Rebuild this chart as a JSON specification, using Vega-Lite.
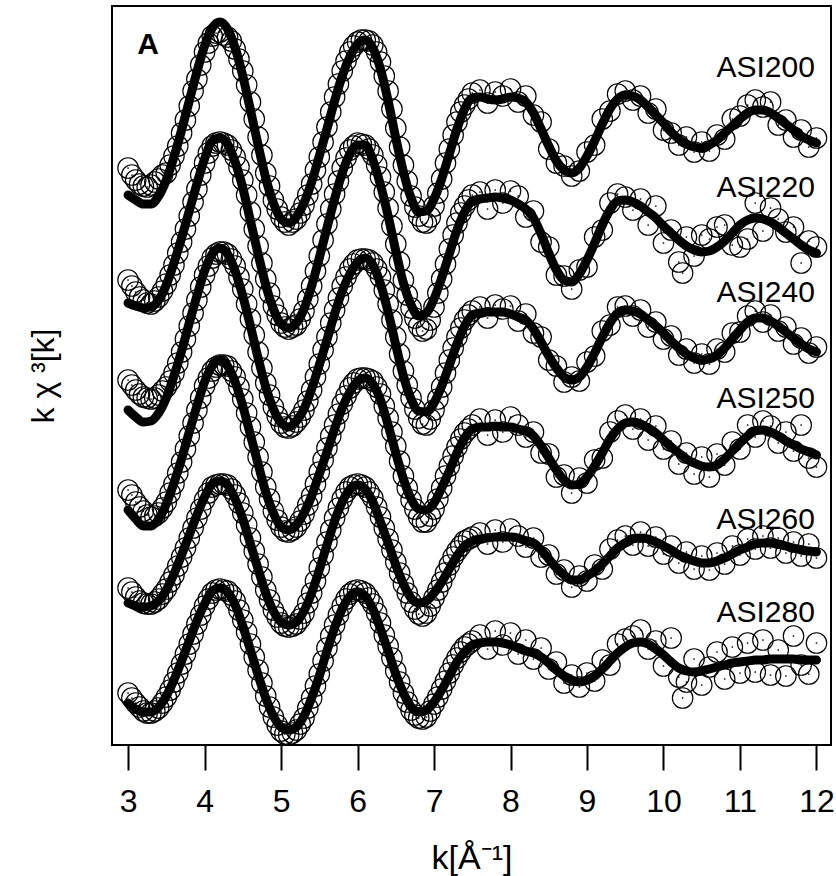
{
"$schema": "https://vega.github.io/schema/vega-lite/v6.json",
"width": 719,
"height": 739,
"autosize": {"type": "none"},
"padding": {"left": 112, "top": 6, "right": 5, "bottom": 131},
"background": "white",
"config": {"view": {"stroke": "black", "strokeWidth": 2}, "font": "Liberation Sans"},
"datasets": {
"exafs": [
{"s":"ASI200","k":3.0,"f":55.0,"o":57.7},{"s":"ASI200","k":3.05,"o":57.0},{"s":"ASI200","k":3.1,"f":54.5,"o":56.5},{"s":"ASI200","k":3.15,"o":56.1},{"s":"ASI200","k":3.2,"f":54.1,"o":55.9},{"s":"ASI200","k":3.25,"o":55.8},{"s":"ASI200","k":3.3,"f":54.1,"o":56.0},{"s":"ASI200","k":3.35,"o":56.3},{"s":"ASI200","k":3.4,"f":54.9,"o":56.6},{"s":"ASI200","k":3.45,"o":57.0},{"s":"ASI200","k":3.5,"f":56.5,"o":57.2},{"s":"ASI200","k":3.55,"o":58.0},{"s":"ASI200","k":3.6,"f":58.8,"o":58.9},{"s":"ASI200","k":3.65,"o":59.9},{"s":"ASI200","k":3.7,"f":61.5,"o":61.2},{"s":"ASI200","k":3.75,"o":62.5},{"s":"ASI200","k":3.8,"f":64.4,"o":63.9},{"s":"ASI200","k":3.85,"o":65.4},{"s":"ASI200","k":3.9,"f":67.3,"o":66.6},{"s":"ASI200","k":3.95,"o":68.0},{"s":"ASI200","k":4.0,"f":69.9,"o":69.3},{"s":"ASI200","k":4.05,"o":70.2},{"s":"ASI200","k":4.1,"f":71.7,"o":70.9},{"s":"ASI200","k":4.15,"o":71.2},{"s":"ASI200","k":4.2,"f":72.3,"o":71.3},{"s":"ASI200","k":4.25,"o":71.0},{"s":"ASI200","k":4.3,"f":71.6,"o":70.8},{"s":"ASI200","k":4.35,"o":70.4},{"s":"ASI200","k":4.4,"f":69.7,"o":69.6},{"s":"ASI200","k":4.45,"o":68.6},{"s":"ASI200","k":4.5,"f":66.9,"o":67.4},{"s":"ASI200","k":4.55,"o":66.0},{"s":"ASI200","k":4.6,"f":63.5,"o":64.3},{"s":"ASI200","k":4.65,"o":62.6},{"s":"ASI200","k":4.7,"f":60.0,"o":60.8},{"s":"ASI200","k":4.75,"o":59.0},{"s":"ASI200","k":4.8,"f":56.7,"o":57.2},{"s":"ASI200","k":4.85,"o":55.9},{"s":"ASI200","k":4.9,"f":54.2,"o":54.5},{"s":"ASI200","k":4.95,"o":53.6},{"s":"ASI200","k":5.0,"f":52.6,"o":52.8},{"s":"ASI200","k":5.05,"o":52.3},{"s":"ASI200","k":5.1,"f":52.2,"o":52.0},{"s":"ASI200","k":5.15,"o":52.3},{"s":"ASI200","k":5.2,"f":52.8,"o":52.6},{"s":"ASI200","k":5.25,"o":53.2},{"s":"ASI200","k":5.3,"f":54.2,"o":54.0},{"s":"ASI200","k":5.35,"o":55.0},{"s":"ASI200","k":5.4,"f":56.3,"o":56.1},{"s":"ASI200","k":5.45,"o":57.5},{"s":"ASI200","k":5.5,"f":58.9,"o":58.8},{"s":"ASI200","k":5.55,"o":60.3},{"s":"ASI200","k":5.6,"f":61.6,"o":61.8},{"s":"ASI200","k":5.65,"o":63.3},{"s":"ASI200","k":5.7,"f":64.4,"o":64.8},{"s":"ASI200","k":5.75,"o":66.1},{"s":"ASI200","k":5.8,"f":66.9,"o":67.4},{"s":"ASI200","k":5.85,"o":68.4},{"s":"ASI200","k":5.9,"f":68.8,"o":69.3},{"s":"ASI200","k":5.95,"o":69.9},{"s":"ASI200","k":6.0,"f":70.1,"o":70.3},{"s":"ASI200","k":6.05,"o":70.5},{"s":"ASI200","k":6.1,"f":70.5,"o":70.5},{"s":"ASI200","k":6.15,"o":70.4},{"s":"ASI200","k":6.2,"f":69.7,"o":70.0},{"s":"ASI200","k":6.25,"o":69.3},{"s":"ASI200","k":6.3,"f":67.6,"o":68.3},{"s":"ASI200","k":6.35,"o":66.9},{"s":"ASI200","k":6.4,"f":64.4,"o":65.4},{"s":"ASI200","k":6.45,"o":63.6},{"s":"ASI200","k":6.5,"f":60.7,"o":61.7},{"s":"ASI200","k":6.55,"o":59.8},{"s":"ASI200","k":6.6,"f":57.3,"o":58.0},{"s":"ASI200","k":6.65,"o":56.4},{"s":"ASI200","k":6.7,"f":54.7,"o":54.9},{"s":"ASI200","k":6.75,"o":53.8},{"s":"ASI200","k":6.8,"f":53.3,"o":52.9},{"s":"ASI200","k":6.85,"o":52.3},{"s":"ASI200","k":6.9,"f":53.4,"o":52.2},{"s":"ASI200","k":6.95,"o":52.8},{"s":"ASI200","k":7.0,"f":54.6,"o":53.9},{"s":"ASI200","k":7.05,"o":55.2},{"s":"ASI200","k":7.1,"f":56.6,"o":56.6},{"s":"ASI200","k":7.15,"o":58.2},{"s":"ASI200","k":7.2,"f":59.1,"o":59.6},{"s":"ASI200","k":7.25,"o":61.0},{"s":"ASI200","k":7.3,"f":61.6,"o":62.3},{"s":"ASI200","k":7.35,"o":63.3},{"s":"ASI200","k":7.4,"f":63.6,"o":64.0},{"s":"ASI200","k":7.45,"o":64.6},{"s":"ASI200","k":7.5,"f":64.7,"o":65.2},
{"s":"ASI200","k":7.6,"f":64.8,"o":65.5},{"s":"ASI200","k":7.7,"f":64.6,"o":64.2},{"s":"ASI200","k":7.8,"f":64.5,"o":65.3},{"s":"ASI200","k":7.9,"f":64.6,"o":64.9},{"s":"ASI200","k":8.0,"f":64.8,"o":65.6},{"s":"ASI200","k":8.1,"f":64.7,"o":64.3},{"s":"ASI200","k":8.2,"f":64.3,"o":64.9},{"s":"ASI200","k":8.3,"f":63.2,"o":63.0},{"s":"ASI200","k":8.4,"f":61.6,"o":62.3},{"s":"ASI200","k":8.5,"f":59.9,"o":59.6},{"s":"ASI200","k":8.6,"f":58.4,"o":58.2},{"s":"ASI200","k":8.7,"f":57.5,"o":57.9},{"s":"ASI200","k":8.8,"f":57.2,"o":56.9},{"s":"ASI200","k":8.9,"f":57.7,"o":57.4},{"s":"ASI200","k":9.0,"f":58.9,"o":59.3},{"s":"ASI200","k":9.1,"f":60.4,"o":60.0},{"s":"ASI200","k":9.2,"f":62.1,"o":62.6},{"s":"ASI200","k":9.3,"f":63.6,"o":63.4},{"s":"ASI200","k":9.4,"f":64.6,"o":65.1},{"s":"ASI200","k":9.5,"f":65.0,"o":65.4},{"s":"ASI200","k":9.6,"f":64.9,"o":64.5},{"s":"ASI200","k":9.7,"f":64.5,"o":64.9},{"s":"ASI200","k":9.8,"f":63.8,"o":63.2},{"s":"ASI200","k":9.9,"f":63.0,"o":63.6},{"s":"ASI200","k":10.0,"f":62.2,"o":61.5},{"s":"ASI200","k":10.1,"f":61.3,"o":61.2},{"s":"ASI200","k":10.2,"f":60.6,"o":60.0},{"s":"ASI200","k":10.3,"f":60.1,"o":60.8},{"s":"ASI200","k":10.4,"f":59.8,"o":59.3},{"s":"ASI200","k":10.5,"f":59.7,"o":60.3},{"s":"ASI200","k":10.6,"f":60.0,"o":59.4},{"s":"ASI200","k":10.7,"f":60.5,"o":61.0},{"s":"ASI200","k":10.8,"f":61.2,"o":60.6},{"s":"ASI200","k":10.9,"f":61.9,"o":62.6},{"s":"ASI200","k":11.0,"f":62.6,"o":62.9},{"s":"ASI200","k":11.1,"f":63.2,"o":64.0},{"s":"ASI200","k":11.2,"f":63.5,"o":64.5},{"s":"ASI200","k":11.3,"f":63.5,"o":63.8},{"s":"ASI200","k":11.4,"f":63.2,"o":64.3},{"s":"ASI200","k":11.5,"f":62.7,"o":62.0},{"s":"ASI200","k":11.6,"f":62.1,"o":62.5},{"s":"ASI200","k":11.7,"f":61.5,"o":60.8},{"s":"ASI200","k":11.8,"f":60.9,"o":61.5},{"s":"ASI200","k":11.9,"f":60.5,"o":59.8},{"s":"ASI200","k":12.0,"f":60.2,"o":60.7},

{"s":"ASI220","k":3.0,"f":44.2,"o":46.5},{"s":"ASI220","k":3.05,"o":45.9},{"s":"ASI220","k":3.1,"f":43.9,"o":45.3},{"s":"ASI220","k":3.15,"o":44.8},{"s":"ASI220","k":3.2,"f":43.7,"o":44.5},{"s":"ASI220","k":3.25,"o":44.2},{"s":"ASI220","k":3.3,"f":43.8,"o":44.1},{"s":"ASI220","k":3.35,"o":44.4},{"s":"ASI220","k":3.4,"f":44.5,"o":44.8},{"s":"ASI220","k":3.45,"o":45.4},{"s":"ASI220","k":3.5,"f":46.0,"o":46.1},{"s":"ASI220","k":3.55,"o":47.0},{"s":"ASI220","k":3.6,"f":48.2,"o":48.0},{"s":"ASI220","k":3.65,"o":49.2},{"s":"ASI220","k":3.7,"f":50.7,"o":50.3},{"s":"ASI220","k":3.75,"o":51.6},{"s":"ASI220","k":3.8,"f":53.4,"o":52.9},{"s":"ASI220","k":3.85,"o":54.3},{"s":"ASI220","k":3.9,"f":56.1,"o":55.6},{"s":"ASI220","k":3.95,"o":57.0},{"s":"ASI220","k":4.0,"f":58.6,"o":58.2},{"s":"ASI220","k":4.05,"o":59.2},{"s":"ASI220","k":4.1,"f":60.4,"o":59.9},{"s":"ASI220","k":4.15,"o":60.2},{"s":"ASI220","k":4.2,"f":60.7,"o":60.3},{"s":"ASI220","k":4.25,"o":60.2},{"s":"ASI220","k":4.3,"f":60.1,"o":60.0},{"s":"ASI220","k":4.35,"o":59.5},{"s":"ASI220","k":4.4,"f":58.3,"o":58.8},{"s":"ASI220","k":4.45,"o":57.8},{"s":"ASI220","k":4.5,"f":55.7,"o":56.5},{"s":"ASI220","k":4.55,"o":55.0},{"s":"ASI220","k":4.6,"f":52.4,"o":53.3},{"s":"ASI220","k":4.65,"o":51.6},{"s":"ASI220","k":4.7,"f":49.1,"o":49.9},{"s":"ASI220","k":4.75,"o":48.2},{"s":"ASI220","k":4.8,"f":46.0,"o":46.6},{"s":"ASI220","k":4.85,"o":45.2},{"s":"ASI220","k":4.9,"f":43.6,"o":43.9},{"s":"ASI220","k":4.95,"o":43.0},{"s":"ASI220","k":5.0,"f":42.1,"o":42.2},{"s":"ASI220","k":5.05,"o":41.8},{"s":"ASI220","k":5.1,"f":41.7,"o":41.6},{"s":"ASI220","k":5.15,"o":41.8},{"s":"ASI220","k":5.2,"f":42.2,"o":42.0},{"s":"ASI220","k":5.25,"o":42.6},{"s":"ASI220","k":5.3,"f":43.6,"o":43.4},{"s":"ASI220","k":5.35,"o":44.6},{"s":"ASI220","k":5.4,"f":45.9,"o":45.9},{"s":"ASI220","k":5.45,"o":47.4},{"s":"ASI220","k":5.5,"f":48.7,"o":48.9},{"s":"ASI220","k":5.55,"o":50.5},{"s":"ASI220","k":5.6,"f":51.7,"o":52.1},{"s":"ASI220","k":5.65,"o":53.6},{"s":"ASI220","k":5.7,"f":54.6,"o":55.1},{"s":"ASI220","k":5.75,"o":56.4},{"s":"ASI220","k":5.8,"f":57.2,"o":57.7},{"s":"ASI220","k":5.85,"o":58.7},{"s":"ASI220","k":5.9,"f":59.1,"o":59.5},{"s":"ASI220","k":5.95,"o":59.9},{"s":"ASI220","k":6.0,"f":60.0,"o":60.2},{"s":"ASI220","k":6.05,"o":60.1},{"s":"ASI220","k":6.1,"f":60.0,"o":60.0},{"s":"ASI220","k":6.15,"o":59.6},{"s":"ASI220","k":6.2,"f":58.5,"o":59.0},{"s":"ASI220","k":6.25,"o":58.0},{"s":"ASI220","k":6.3,"f":56.0,"o":56.8},{"s":"ASI220","k":6.35,"o":55.3},{"s":"ASI220","k":6.4,"f":52.9,"o":53.7},{"s":"ASI220","k":6.45,"o":51.9},{"s":"ASI220","k":6.5,"f":49.4,"o":50.1},{"s":"ASI220","k":6.55,"o":48.3},{"s":"ASI220","k":6.6,"f":46.2,"o":46.5},{"s":"ASI220","k":6.65,"o":45.0},{"s":"ASI220","k":6.7,"f":44.0,"o":43.7},{"s":"ASI220","k":6.75,"o":42.7},{"s":"ASI220","k":6.8,"f":42.9,"o":41.9},{"s":"ASI220","k":6.85,"o":41.4},{"s":"ASI220","k":6.9,"f":43.2,"o":41.6},{"s":"ASI220","k":6.95,"o":42.5},{"s":"ASI220","k":7.0,"f":44.6,"o":43.8},{"s":"ASI220","k":7.05,"o":45.2},{"s":"ASI220","k":7.1,"f":46.7,"o":46.6},{"s":"ASI220","k":7.15,"o":48.1},{"s":"ASI220","k":7.2,"f":49.1,"o":49.6},{"s":"ASI220","k":7.25,"o":51.0},{"s":"ASI220","k":7.3,"f":51.5,"o":52.2},{"s":"ASI220","k":7.35,"o":53.2},{"s":"ASI220","k":7.4,"f":53.3,"o":53.9},{"s":"ASI220","k":7.45,"o":54.5},{"s":"ASI220","k":7.5,"f":54.4,"o":55.0},
{"s":"ASI220","k":7.6,"f":54.6,"o":55.3},{"s":"ASI220","k":7.7,"f":54.7,"o":53.6},{"s":"ASI220","k":7.8,"f":54.8,"o":55.5},{"s":"ASI220","k":7.9,"f":54.7,"o":54.2},{"s":"ASI220","k":8.0,"f":54.5,"o":55.4},{"s":"ASI220","k":8.1,"f":54.1,"o":54.9},{"s":"ASI220","k":8.2,"f":53.6,"o":52.8},{"s":"ASI220","k":8.3,"f":52.7,"o":53.4},{"s":"ASI220","k":8.4,"f":51.1,"o":50.3},{"s":"ASI220","k":8.5,"f":49.2,"o":49.8},{"s":"ASI220","k":8.6,"f":47.5,"o":47.0},{"s":"ASI220","k":8.7,"f":46.5,"o":46.9},{"s":"ASI220","k":8.8,"f":46.3,"o":45.6},{"s":"ASI220","k":8.9,"f":47.1,"o":47.5},{"s":"ASI220","k":9.0,"f":48.5,"o":47.8},{"s":"ASI220","k":9.1,"f":50.2,"o":50.8},{"s":"ASI220","k":9.2,"f":52.0,"o":51.5},{"s":"ASI220","k":9.3,"f":53.5,"o":54.2},{"s":"ASI220","k":9.4,"f":54.4,"o":55.1},{"s":"ASI220","k":9.5,"f":54.5,"o":54.8},{"s":"ASI220","k":9.6,"f":54.3,"o":53.5},{"s":"ASI220","k":9.7,"f":53.9,"o":54.6},{"s":"ASI220","k":9.8,"f":53.3,"o":52.0},{"s":"ASI220","k":9.9,"f":52.7,"o":53.9},{"s":"ASI220","k":10.0,"f":51.9,"o":50.2},{"s":"ASI220","k":10.1,"f":51.2,"o":51.5},{"s":"ASI220","k":10.2,"f":50.5,"o":48.3},{"s":"ASI220","k":10.25,"o":47.2},{"s":"ASI220","k":10.3,"f":49.9,"o":50.8},{"s":"ASI220","k":10.4,"f":49.5,"o":48.9},{"s":"ASI220","k":10.5,"f":49.3,"o":51.0},{"s":"ASI220","k":10.6,"f":49.4,"o":50.6},{"s":"ASI220","k":10.7,"f":49.8,"o":51.8},{"s":"ASI220","k":10.8,"f":50.4,"o":52.0},{"s":"ASI220","k":10.9,"f":51.2,"o":50.0},{"s":"ASI220","k":11.0,"f":52.0,"o":49.8},{"s":"ASI220","k":11.1,"f":52.5,"o":50.6},{"s":"ASI220","k":11.2,"f":52.7,"o":54.2},{"s":"ASI220","k":11.3,"f":52.6,"o":51.4},{"s":"ASI220","k":11.4,"f":52.3,"o":53.7},{"s":"ASI220","k":11.5,"f":51.8,"o":52.6},{"s":"ASI220","k":11.6,"f":51.2,"o":51.3},{"s":"ASI220","k":11.7,"f":50.6,"o":51.8},{"s":"ASI220","k":11.8,"f":50.0,"o":48.2},{"s":"ASI220","k":11.9,"f":49.5,"o":50.4},{"s":"ASI220","k":12.0,"f":49.2,"o":49.8},

{"s":"ASI240","k":3.0,"f":33.5,"o":36.5},{"s":"ASI240","k":3.05,"o":36.0},{"s":"ASI240","k":3.1,"f":32.8,"o":35.5},{"s":"ASI240","k":3.15,"o":35.1},{"s":"ASI240","k":3.2,"f":32.3,"o":34.8},{"s":"ASI240","k":3.25,"o":34.7},{"s":"ASI240","k":3.3,"f":32.4,"o":34.6},{"s":"ASI240","k":3.35,"o":34.7},{"s":"ASI240","k":3.4,"f":33.2,"o":35.0},{"s":"ASI240","k":3.45,"o":35.4},{"s":"ASI240","k":3.5,"f":34.7,"o":35.8},{"s":"ASI240","k":3.55,"o":36.4},{"s":"ASI240","k":3.6,"f":36.9,"o":37.2},{"s":"ASI240","k":3.65,"o":38.2},{"s":"ASI240","k":3.7,"f":39.4,"o":39.3},{"s":"ASI240","k":3.75,"o":40.6},{"s":"ASI240","k":3.8,"f":42.2,"o":41.9},{"s":"ASI240","k":3.85,"o":43.2},{"s":"ASI240","k":3.9,"f":44.9,"o":44.5},{"s":"ASI240","k":3.95,"o":45.8},{"s":"ASI240","k":4.0,"f":47.4,"o":47.0},{"s":"ASI240","k":4.05,"o":47.9},{"s":"ASI240","k":4.1,"f":49.1,"o":48.7},{"s":"ASI240","k":4.15,"o":49.1},{"s":"ASI240","k":4.2,"f":49.7,"o":49.3},{"s":"ASI240","k":4.25,"o":49.3},{"s":"ASI240","k":4.3,"f":49.1,"o":49.1},{"s":"ASI240","k":4.35,"o":48.6},{"s":"ASI240","k":4.4,"f":47.4,"o":47.9},{"s":"ASI240","k":4.45,"o":46.8},{"s":"ASI240","k":4.5,"f":44.9,"o":45.6},{"s":"ASI240","k":4.55,"o":44.1},{"s":"ASI240","k":4.6,"f":41.9,"o":42.6},{"s":"ASI240","k":4.65,"o":41.0},{"s":"ASI240","k":4.7,"f":38.7,"o":39.3},{"s":"ASI240","k":4.75,"o":37.7},{"s":"ASI240","k":4.8,"f":35.8,"o":36.2},{"s":"ASI240","k":4.85,"o":35.0},{"s":"ASI240","k":4.9,"f":33.6,"o":33.8},{"s":"ASI240","k":4.95,"o":32.9},{"s":"ASI240","k":5.0,"f":32.2,"o":32.2},{"s":"ASI240","k":5.05,"o":31.8},{"s":"ASI240","k":5.1,"f":31.8,"o":31.7},{"s":"ASI240","k":5.15,"o":31.9},{"s":"ASI240","k":5.2,"f":32.4,"o":32.3},{"s":"ASI240","k":5.25,"o":32.8},{"s":"ASI240","k":5.3,"f":33.6,"o":33.5},{"s":"ASI240","k":5.35,"o":34.4},{"s":"ASI240","k":5.4,"f":35.6,"o":35.5},{"s":"ASI240","k":5.45,"o":36.8},{"s":"ASI240","k":5.5,"f":38.0,"o":38.1},{"s":"ASI240","k":5.55,"o":39.5},{"s":"ASI240","k":5.6,"f":40.5,"o":40.8},{"s":"ASI240","k":5.65,"o":42.2},{"s":"ASI240","k":5.7,"f":43.1,"o":43.5},{"s":"ASI240","k":5.75,"o":44.7},{"s":"ASI240","k":5.8,"f":45.4,"o":45.9},{"s":"ASI240","k":5.85,"o":46.8},{"s":"ASI240","k":5.9,"f":47.1,"o":47.6},{"s":"ASI240","k":5.95,"o":48.1},{"s":"ASI240","k":6.0,"f":48.3,"o":48.5},{"s":"ASI240","k":6.05,"o":48.6},{"s":"ASI240","k":6.1,"f":48.7,"o":48.6},{"s":"ASI240","k":6.15,"o":48.5},{"s":"ASI240","k":6.2,"f":48.0,"o":48.2},{"s":"ASI240","k":6.25,"o":47.6},{"s":"ASI240","k":6.3,"f":46.1,"o":46.8},{"s":"ASI240","k":6.35,"o":45.5},{"s":"ASI240","k":6.4,"f":43.3,"o":44.1},{"s":"ASI240","k":6.45,"o":42.5},{"s":"ASI240","k":6.5,"f":40.0,"o":40.8},{"s":"ASI240","k":6.55,"o":39.1},{"s":"ASI240","k":6.6,"f":36.9,"o":37.4},{"s":"ASI240","k":6.65,"o":36.0},{"s":"ASI240","k":6.7,"f":34.6,"o":34.7},{"s":"ASI240","k":6.75,"o":33.6},{"s":"ASI240","k":6.8,"f":33.4,"o":32.7},{"s":"ASI240","k":6.85,"o":32.1},{"s":"ASI240","k":6.9,"f":33.3,"o":32.0},{"s":"ASI240","k":6.95,"o":32.6},{"s":"ASI240","k":7.0,"f":34.2,"o":33.5},{"s":"ASI240","k":7.05,"o":34.6},{"s":"ASI240","k":7.1,"f":35.9,"o":35.8},{"s":"ASI240","k":7.15,"o":37.2},{"s":"ASI240","k":7.2,"f":38.0,"o":38.5},{"s":"ASI240","k":7.25,"o":39.7},{"s":"ASI240","k":7.3,"f":40.1,"o":40.8},{"s":"ASI240","k":7.35,"o":41.7},{"s":"ASI240","k":7.4,"f":41.9,"o":42.5},{"s":"ASI240","k":7.45,"o":43.0},{"s":"ASI240","k":7.5,"f":43.0,"o":43.4},
{"s":"ASI240","k":7.6,"f":43.2,"o":43.8},{"s":"ASI240","k":7.7,"f":43.3,"o":42.7},{"s":"ASI240","k":7.8,"f":43.3,"o":44.0},{"s":"ASI240","k":7.9,"f":43.3,"o":43.6},{"s":"ASI240","k":8.0,"f":43.1,"o":43.9},{"s":"ASI240","k":8.1,"f":42.8,"o":42.4},{"s":"ASI240","k":8.2,"f":42.5,"o":43.1},{"s":"ASI240","k":8.3,"f":41.6,"o":41.2},{"s":"ASI240","k":8.4,"f":40.3,"o":40.8},{"s":"ASI240","k":8.5,"f":38.9,"o":38.5},{"s":"ASI240","k":8.6,"f":37.7,"o":37.9},{"s":"ASI240","k":8.7,"f":36.8,"o":36.3},{"s":"ASI240","k":8.8,"f":36.5,"o":36.8},{"s":"ASI240","k":8.9,"f":36.8,"o":36.4},{"s":"ASI240","k":9.0,"f":37.8,"o":38.3},{"s":"ASI240","k":9.1,"f":39.2,"o":38.9},{"s":"ASI240","k":9.2,"f":40.8,"o":41.4},{"s":"ASI240","k":9.3,"f":42.2,"o":42.0},{"s":"ASI240","k":9.4,"f":43.2,"o":43.8},{"s":"ASI240","k":9.5,"f":43.5,"o":43.9},{"s":"ASI240","k":9.6,"f":43.4,"o":42.9},{"s":"ASI240","k":9.7,"f":43.1,"o":43.5},{"s":"ASI240","k":9.8,"f":42.5,"o":41.8},{"s":"ASI240","k":9.9,"f":41.9,"o":42.3},{"s":"ASI240","k":10.0,"f":41.2,"o":40.6},{"s":"ASI240","k":10.1,"f":40.4,"o":40.9},{"s":"ASI240","k":10.2,"f":39.7,"o":39.0},{"s":"ASI240","k":10.3,"f":39.1,"o":39.6},{"s":"ASI240","k":10.4,"f":38.7,"o":38.2},{"s":"ASI240","k":10.5,"f":38.5,"o":39.1},{"s":"ASI240","k":10.6,"f":38.6,"o":38.1},{"s":"ASI240","k":10.7,"f":39.0,"o":39.6},{"s":"ASI240","k":10.8,"f":39.7,"o":39.3},{"s":"ASI240","k":10.9,"f":40.6,"o":41.2},{"s":"ASI240","k":11.0,"f":41.5,"o":41.3},{"s":"ASI240","k":11.1,"f":42.3,"o":42.9},{"s":"ASI240","k":11.2,"f":42.7,"o":43.4},{"s":"ASI240","k":11.3,"f":42.7,"o":42.3},{"s":"ASI240","k":11.4,"f":42.4,"o":43.0},{"s":"ASI240","k":11.5,"f":41.9,"o":41.4},{"s":"ASI240","k":11.6,"f":41.3,"o":41.8},{"s":"ASI240","k":11.7,"f":40.7,"o":40.1},{"s":"ASI240","k":11.8,"f":40.1,"o":40.7},{"s":"ASI240","k":11.9,"f":39.6,"o":39.2},{"s":"ASI240","k":12.0,"f":39.3,"o":39.8},

{"s":"ASI250","k":3.0,"f":23.5,"o":25.5},{"s":"ASI250","k":3.05,"o":25.0},{"s":"ASI250","k":3.1,"f":22.6,"o":24.3},{"s":"ASI250","k":3.15,"o":23.8},{"s":"ASI250","k":3.2,"f":21.9,"o":23.4},{"s":"ASI250","k":3.25,"o":23.0},{"s":"ASI250","k":3.3,"f":21.9,"o":22.8},{"s":"ASI250","k":3.35,"o":22.9},{"s":"ASI250","k":3.4,"f":22.6,"o":23.2},{"s":"ASI250","k":3.45,"o":23.7},{"s":"ASI250","k":3.5,"f":24.1,"o":24.3},{"s":"ASI250","k":3.55,"o":25.2},{"s":"ASI250","k":3.6,"f":26.2,"o":26.1},{"s":"ASI250","k":3.65,"o":27.2},{"s":"ASI250","k":3.7,"f":28.6,"o":28.3},{"s":"ASI250","k":3.75,"o":29.6},{"s":"ASI250","k":3.8,"f":31.3,"o":30.9},{"s":"ASI250","k":3.85,"o":32.2},{"s":"ASI250","k":3.9,"f":33.9,"o":33.5},{"s":"ASI250","k":3.95,"o":34.7},{"s":"ASI250","k":4.0,"f":36.3,"o":35.9},{"s":"ASI250","k":4.05,"o":36.7},{"s":"ASI250","k":4.1,"f":37.9,"o":37.4},{"s":"ASI250","k":4.15,"o":37.8},{"s":"ASI250","k":4.2,"f":38.5,"o":38.0},{"s":"ASI250","k":4.25,"o":38.0},{"s":"ASI250","k":4.3,"f":37.9,"o":37.9},{"s":"ASI250","k":4.35,"o":37.4},{"s":"ASI250","k":4.4,"f":36.3,"o":36.8},{"s":"ASI250","k":4.45,"o":35.8},{"s":"ASI250","k":4.5,"f":33.9,"o":34.6},{"s":"ASI250","k":4.55,"o":33.2},{"s":"ASI250","k":4.6,"f":31.0,"o":31.8},{"s":"ASI250","k":4.65,"o":30.3},{"s":"ASI250","k":4.7,"f":28.1,"o":28.8},{"s":"ASI250","k":4.75,"o":27.3},{"s":"ASI250","k":4.8,"f":25.3,"o":25.8},{"s":"ASI250","k":4.85,"o":24.6},{"s":"ASI250","k":4.9,"f":23.2,"o":23.4},{"s":"ASI250","k":4.95,"o":22.5},{"s":"ASI250","k":5.0,"f":21.8,"o":21.8},{"s":"ASI250","k":5.05,"o":21.4},{"s":"ASI250","k":5.1,"f":21.5,"o":21.3},{"s":"ASI250","k":5.15,"o":21.5},{"s":"ASI250","k":5.2,"f":22.0,"o":21.8},{"s":"ASI250","k":5.25,"o":22.4},{"s":"ASI250","k":5.3,"f":23.2,"o":23.1},{"s":"ASI250","k":5.35,"o":24.0},{"s":"ASI250","k":5.4,"f":24.9,"o":24.9},{"s":"ASI250","k":5.45,"o":26.1},{"s":"ASI250","k":5.5,"f":27.1,"o":27.3},{"s":"ASI250","k":5.55,"o":28.5},{"s":"ASI250","k":5.6,"f":29.3,"o":29.7},{"s":"ASI250","k":5.65,"o":30.9},{"s":"ASI250","k":5.7,"f":31.6,"o":32.0},{"s":"ASI250","k":5.75,"o":33.1},{"s":"ASI250","k":5.8,"f":33.7,"o":34.1},{"s":"ASI250","k":5.85,"o":34.9},{"s":"ASI250","k":5.9,"f":35.3,"o":35.7},{"s":"ASI250","k":5.95,"o":36.2},{"s":"ASI250","k":6.0,"f":36.4,"o":36.6},{"s":"ASI250","k":6.05,"o":36.7},{"s":"ASI250","k":6.1,"f":36.7,"o":36.7},{"s":"ASI250","k":6.15,"o":36.6},{"s":"ASI250","k":6.2,"f":36.1,"o":36.4},{"s":"ASI250","k":6.25,"o":35.8},{"s":"ASI250","k":6.3,"f":34.5,"o":35.1},{"s":"ASI250","k":6.35,"o":33.9},{"s":"ASI250","k":6.4,"f":32.0,"o":32.7},{"s":"ASI250","k":6.45,"o":31.3},{"s":"ASI250","k":6.5,"f":29.2,"o":29.9},{"s":"ASI250","k":6.55,"o":28.4},{"s":"ASI250","k":6.6,"f":26.6,"o":26.9},{"s":"ASI250","k":6.65,"o":25.7},{"s":"ASI250","k":6.7,"f":24.6,"o":24.5},{"s":"ASI250","k":6.75,"o":23.6},{"s":"ASI250","k":6.8,"f":23.6,"o":22.8},{"s":"ASI250","k":6.85,"o":22.3},{"s":"ASI250","k":6.9,"f":23.5,"o":22.3},{"s":"ASI250","k":6.95,"o":22.9},{"s":"ASI250","k":7.0,"f":24.2,"o":23.6},{"s":"ASI250","k":7.05,"o":24.6},{"s":"ASI250","k":7.1,"f":25.7,"o":25.7},{"s":"ASI250","k":7.15,"o":26.9},{"s":"ASI250","k":7.2,"f":27.4,"o":27.9},{"s":"ASI250","k":7.25,"o":28.9},{"s":"ASI250","k":7.3,"f":29.2,"o":29.8},{"s":"ASI250","k":7.35,"o":30.6},{"s":"ASI250","k":7.4,"f":30.7,"o":31.2},{"s":"ASI250","k":7.45,"o":31.6},{"s":"ASI250","k":7.5,"f":31.6,"o":32.0},
{"s":"ASI250","k":7.6,"f":31.8,"o":32.6},{"s":"ASI250","k":7.7,"f":31.8,"o":31.0},{"s":"ASI250","k":7.8,"f":31.9,"o":32.5},{"s":"ASI250","k":7.9,"f":31.8,"o":31.3},{"s":"ASI250","k":8.0,"f":31.8,"o":32.8},{"s":"ASI250","k":8.1,"f":31.6,"o":32.0},{"s":"ASI250","k":8.2,"f":31.4,"o":30.8},{"s":"ASI250","k":8.3,"f":30.9,"o":31.3},{"s":"ASI250","k":8.4,"f":29.9,"o":29.2},{"s":"ASI250","k":8.5,"f":28.7,"o":29.1},{"s":"ASI250","k":8.6,"f":27.5,"o":26.8},{"s":"ASI250","k":8.7,"f":26.5,"o":27.0},{"s":"ASI250","k":8.8,"f":26.0,"o":25.2},{"s":"ASI250","k":8.9,"f":26.1,"o":26.7},{"s":"ASI250","k":9.0,"f":26.8,"o":26.2},{"s":"ASI250","k":9.1,"f":27.9,"o":28.5},{"s":"ASI250","k":9.2,"f":29.2,"o":28.7},{"s":"ASI250","k":9.3,"f":30.6,"o":31.3},{"s":"ASI250","k":9.4,"f":31.6,"o":32.4},{"s":"ASI250","k":9.5,"f":32.2,"o":33.0},{"s":"ASI250","k":9.6,"f":32.3,"o":31.6},{"s":"ASI250","k":9.7,"f":32.1,"o":32.6},{"s":"ASI250","k":9.8,"f":31.7,"o":30.5},{"s":"ASI250","k":9.9,"f":31.2,"o":31.9},{"s":"ASI250","k":10.0,"f":30.5,"o":29.6},{"s":"ASI250","k":10.1,"f":29.8,"o":30.4},{"s":"ASI250","k":10.2,"f":29.2,"o":28.1},{"s":"ASI250","k":10.3,"f":28.6,"o":29.2},{"s":"ASI250","k":10.4,"f":28.2,"o":27.1},{"s":"ASI250","k":10.5,"f":27.9,"o":28.8},{"s":"ASI250","k":10.6,"f":27.8,"o":26.8},{"s":"ASI250","k":10.7,"f":28.0,"o":29.1},{"s":"ASI250","k":10.8,"f":28.6,"o":28.0},{"s":"ASI250","k":10.9,"f":29.4,"o":30.3},{"s":"ASI250","k":11.0,"f":30.2,"o":29.6},{"s":"ASI250","k":11.1,"f":30.9,"o":32.0},{"s":"ASI250","k":11.2,"f":31.4,"o":30.8},{"s":"ASI250","k":11.3,"f":31.5,"o":32.4},{"s":"ASI250","k":11.4,"f":31.3,"o":31.9},{"s":"ASI250","k":11.5,"f":30.9,"o":30.2},{"s":"ASI250","k":11.6,"f":30.4,"o":31.3},{"s":"ASI250","k":11.7,"f":30.0,"o":29.4},{"s":"ASI250","k":11.8,"f":29.6,"o":32.0},{"s":"ASI250","k":11.9,"f":29.3,"o":28.7},{"s":"ASI250","k":12.0,"f":29.0,"o":27.8},

{"s":"ASI260","k":3.0,"f":14.2,"o":15.7},{"s":"ASI260","k":3.05,"o":15.3},{"s":"ASI260","k":3.1,"f":13.9,"o":14.8},{"s":"ASI260","k":3.15,"o":14.4},{"s":"ASI260","k":3.2,"f":13.8,"o":14.2},{"s":"ASI260","k":3.25,"o":14.1},{"s":"ASI260","k":3.3,"f":13.9,"o":14.1},{"s":"ASI260","k":3.35,"o":14.3},{"s":"ASI260","k":3.4,"f":14.4,"o":14.6},{"s":"ASI260","k":3.45,"o":15.1},{"s":"ASI260","k":3.5,"f":15.5,"o":15.6},{"s":"ASI260","k":3.55,"o":16.3},{"s":"ASI260","k":3.6,"f":17.1,"o":17.0},{"s":"ASI260","k":3.65,"o":17.9},{"s":"ASI260","k":3.7,"f":19.0,"o":18.8},{"s":"ASI260","k":3.75,"o":19.7},{"s":"ASI260","k":3.8,"f":21.0,"o":20.7},{"s":"ASI260","k":3.85,"o":21.7},{"s":"ASI260","k":3.9,"f":23.0,"o":22.7},{"s":"ASI260","k":3.95,"o":23.6},{"s":"ASI260","k":4.0,"f":24.8,"o":24.5},{"s":"ASI260","k":4.05,"o":25.2},{"s":"ASI260","k":4.1,"f":26.1,"o":25.8},{"s":"ASI260","k":4.15,"o":26.0},{"s":"ASI260","k":4.2,"f":26.4,"o":26.1},{"s":"ASI260","k":4.25,"o":26.1},{"s":"ASI260","k":4.3,"f":26.0,"o":26.0},{"s":"ASI260","k":4.35,"o":25.6},{"s":"ASI260","k":4.4,"f":24.6,"o":25.0},{"s":"ASI260","k":4.45,"o":24.2},{"s":"ASI260","k":4.5,"f":22.6,"o":23.2},{"s":"ASI260","k":4.55,"o":22.0},{"s":"ASI260","k":4.6,"f":20.1,"o":20.7},{"s":"ASI260","k":4.65,"o":19.4},{"s":"ASI260","k":4.7,"f":17.6,"o":18.1},{"s":"ASI260","k":4.75,"o":16.8},{"s":"ASI260","k":4.8,"f":15.2,"o":15.5},{"s":"ASI260","k":4.85,"o":14.5},{"s":"ASI260","k":4.9,"f":13.4,"o":13.5},{"s":"ASI260","k":4.95,"o":12.8},{"s":"ASI260","k":5.0,"f":12.3,"o":12.2},{"s":"ASI260","k":5.05,"o":11.9},{"s":"ASI260","k":5.1,"f":12.0,"o":11.8},{"s":"ASI260","k":5.15,"o":11.9},{"s":"ASI260","k":5.2,"f":12.3,"o":12.1},{"s":"ASI260","k":5.25,"o":12.6},{"s":"ASI260","k":5.3,"f":13.4,"o":13.2},{"s":"ASI260","k":5.35,"o":14.2},{"s":"ASI260","k":5.4,"f":15.2,"o":15.2},{"s":"ASI260","k":5.45,"o":16.4},{"s":"ASI260","k":5.5,"f":17.5,"o":17.7},{"s":"ASI260","k":5.55,"o":19.0},{"s":"ASI260","k":5.6,"f":20.0,"o":20.3},{"s":"ASI260","k":5.65,"o":21.5},{"s":"ASI260","k":5.7,"f":22.4,"o":22.7},{"s":"ASI260","k":5.75,"o":23.7},{"s":"ASI260","k":5.8,"f":24.3,"o":24.6},{"s":"ASI260","k":5.85,"o":25.3},{"s":"ASI260","k":5.9,"f":25.6,"o":25.8},{"s":"ASI260","k":5.95,"o":26.0},{"s":"ASI260","k":6.0,"f":26.0,"o":26.1},{"s":"ASI260","k":6.05,"o":26.0},{"s":"ASI260","k":6.1,"f":25.6,"o":25.8},{"s":"ASI260","k":6.15,"o":25.3},{"s":"ASI260","k":6.2,"f":24.3,"o":24.7},{"s":"ASI260","k":6.25,"o":23.8},{"s":"ASI260","k":6.3,"f":22.3,"o":22.8},{"s":"ASI260","k":6.35,"o":21.7},{"s":"ASI260","k":6.4,"f":20.2,"o":20.6},{"s":"ASI260","k":6.45,"o":19.5},{"s":"ASI260","k":6.5,"f":18.0,"o":18.3},{"s":"ASI260","k":6.55,"o":17.2},{"s":"ASI260","k":6.6,"f":16.1,"o":16.1},{"s":"ASI260","k":6.65,"o":15.2},{"s":"ASI260","k":6.7,"f":14.7,"o":14.3},{"s":"ASI260","k":6.75,"o":13.6},{"s":"ASI260","k":6.8,"f":14.2,"o":13.1},{"s":"ASI260","k":6.85,"o":12.9},{"s":"ASI260","k":6.9,"f":14.4,"o":13.2},{"s":"ASI260","k":6.95,"o":13.9},{"s":"ASI260","k":7.0,"f":15.2,"o":14.7},{"s":"ASI260","k":7.05,"o":15.5},{"s":"ASI260","k":7.1,"f":16.3,"o":16.3},{"s":"ASI260","k":7.15,"o":17.2},{"s":"ASI260","k":7.2,"f":17.6,"o":18.0},{"s":"ASI260","k":7.25,"o":18.8},{"s":"ASI260","k":7.3,"f":18.9,"o":19.4},{"s":"ASI260","k":7.35,"o":19.9},{"s":"ASI260","k":7.4,"f":19.9,"o":20.4},{"s":"ASI260","k":7.45,"o":20.6},{"s":"ASI260","k":7.5,"f":20.4,"o":20.8},
{"s":"ASI260","k":7.6,"f":20.6,"o":21.2},{"s":"ASI260","k":7.7,"f":20.7,"o":20.1},{"s":"ASI260","k":7.8,"f":20.8,"o":21.5},{"s":"ASI260","k":7.9,"f":20.8,"o":20.3},{"s":"ASI260","k":8.0,"f":20.8,"o":21.6},{"s":"ASI260","k":8.1,"f":20.7,"o":20.9},{"s":"ASI260","k":8.2,"f":20.4,"o":19.8},{"s":"ASI260","k":8.3,"f":20.2,"o":20.7},{"s":"ASI260","k":8.4,"f":19.5,"o":18.8},{"s":"ASI260","k":8.5,"f":18.6,"o":19.0},{"s":"ASI260","k":8.6,"f":17.7,"o":17.1},{"s":"ASI260","k":8.7,"f":17.0,"o":17.5},{"s":"ASI260","k":8.8,"f":16.5,"o":15.8},{"s":"ASI260","k":8.9,"f":16.5,"o":16.9},{"s":"ASI260","k":9.0,"f":16.9,"o":16.4},{"s":"ASI260","k":9.1,"f":17.4,"o":18.0},{"s":"ASI260","k":9.2,"f":18.1,"o":17.6},{"s":"ASI260","k":9.3,"f":18.9,"o":19.6},{"s":"ASI260","k":9.4,"f":19.7,"o":20.5},{"s":"ASI260","k":9.5,"f":20.2,"o":20.9},{"s":"ASI260","k":9.6,"f":20.6,"o":20.0},{"s":"ASI260","k":9.7,"f":20.7,"o":21.3},{"s":"ASI260","k":9.8,"f":20.6,"o":19.9},{"s":"ASI260","k":9.9,"f":20.3,"o":20.8},{"s":"ASI260","k":10.0,"f":19.9,"o":19.1},{"s":"ASI260","k":10.1,"f":19.5,"o":19.9},{"s":"ASI260","k":10.2,"f":19.0,"o":18.2},{"s":"ASI260","k":10.3,"f":18.7,"o":19.3},{"s":"ASI260","k":10.4,"f":18.4,"o":17.6},{"s":"ASI260","k":10.5,"f":18.2,"o":18.9},{"s":"ASI260","k":10.6,"f":18.2,"o":17.5},{"s":"ASI260","k":10.7,"f":18.4,"o":19.2},{"s":"ASI260","k":10.8,"f":18.7,"o":18.1},{"s":"ASI260","k":10.9,"f":19.1,"o":19.9},{"s":"ASI260","k":11.0,"f":19.5,"o":19.0},{"s":"ASI260","k":11.1,"f":19.8,"o":20.6},{"s":"ASI260","k":11.2,"f":20.1,"o":19.6},{"s":"ASI260","k":11.3,"f":20.2,"o":20.9},{"s":"ASI260","k":11.4,"f":20.2,"o":19.7},{"s":"ASI260","k":11.5,"f":20.1,"o":20.7},{"s":"ASI260","k":11.6,"f":19.9,"o":19.2},{"s":"ASI260","k":11.7,"f":19.7,"o":20.3},{"s":"ASI260","k":11.8,"f":19.5,"o":18.9},{"s":"ASI260","k":11.9,"f":19.4,"o":20.1},{"s":"ASI260","k":12.0,"f":19.3,"o":18.7},

{"s":"ASI280","k":3.0,"f":4.2,"o":5.2},{"s":"ASI280","k":3.05,"o":4.7},{"s":"ASI280","k":3.1,"f":3.6,"o":4.2},{"s":"ASI280","k":3.15,"o":3.8},{"s":"ASI280","k":3.2,"f":3.3,"o":3.4},{"s":"ASI280","k":3.25,"o":3.2},{"s":"ASI280","k":3.3,"f":3.3,"o":3.2},{"s":"ASI280","k":3.35,"o":3.4},{"s":"ASI280","k":3.4,"f":3.8,"o":3.7},{"s":"ASI280","k":3.45,"o":4.2},{"s":"ASI280","k":3.5,"f":4.9,"o":4.8},{"s":"ASI280","k":3.55,"o":5.5},{"s":"ASI280","k":3.6,"f":6.5,"o":6.3},{"s":"ASI280","k":3.65,"o":7.2},{"s":"ASI280","k":3.7,"f":8.4,"o":8.1},{"s":"ASI280","k":3.75,"o":9.1},{"s":"ASI280","k":3.8,"f":10.4,"o":10.1},{"s":"ASI280","k":3.85,"o":11.1},{"s":"ASI280","k":3.9,"f":12.4,"o":12.1},{"s":"ASI280","k":3.95,"o":13.0},{"s":"ASI280","k":4.0,"f":14.1,"o":13.9},{"s":"ASI280","k":4.05,"o":14.6},{"s":"ASI280","k":4.1,"f":15.4,"o":15.2},{"s":"ASI280","k":4.15,"o":15.5},{"s":"ASI280","k":4.2,"f":15.7,"o":15.6},{"s":"ASI280","k":4.25,"o":15.5},{"s":"ASI280","k":4.3,"f":15.3,"o":15.4},{"s":"ASI280","k":4.35,"o":15.0},{"s":"ASI280","k":4.4,"f":14.0,"o":14.4},{"s":"ASI280","k":4.45,"o":13.5},{"s":"ASI280","k":4.5,"f":11.9,"o":12.5},{"s":"ASI280","k":4.55,"o":11.3},{"s":"ASI280","k":4.6,"f":9.5,"o":10.1},{"s":"ASI280","k":4.65,"o":8.8},{"s":"ASI280","k":4.7,"f":7.0,"o":7.5},{"s":"ASI280","k":4.75,"o":6.2},{"s":"ASI280","k":4.8,"f":4.7,"o":4.9},{"s":"ASI280","k":4.85,"o":3.8},{"s":"ASI280","k":4.9,"f":2.9,"o":2.8},{"s":"ASI280","k":4.95,"o":2.0},{"s":"ASI280","k":5.0,"f":1.8,"o":1.4},{"s":"ASI280","k":5.05,"o":1.1},{"s":"ASI280","k":5.1,"f":1.5,"o":1.0},{"s":"ASI280","k":5.15,"o":1.2},{"s":"ASI280","k":5.2,"f":1.8,"o":1.5},{"s":"ASI280","k":5.25,"o":2.1},{"s":"ASI280","k":5.3,"f":2.9,"o":2.7},{"s":"ASI280","k":5.35,"o":3.7},{"s":"ASI280","k":5.4,"f":4.7,"o":4.7},{"s":"ASI280","k":5.45,"o":5.9},{"s":"ASI280","k":5.5,"f":6.9,"o":7.1},{"s":"ASI280","k":5.55,"o":8.4},{"s":"ASI280","k":5.6,"f":9.4,"o":9.7},{"s":"ASI280","k":5.65,"o":10.9},{"s":"ASI280","k":5.7,"f":11.7,"o":12.0},{"s":"ASI280","k":5.75,"o":13.0},{"s":"ASI280","k":5.8,"f":13.6,"o":13.9},{"s":"ASI280","k":5.85,"o":14.6},{"s":"ASI280","k":5.9,"f":14.9,"o":15.1},{"s":"ASI280","k":5.95,"o":15.4},{"s":"ASI280","k":6.0,"f":15.3,"o":15.5},{"s":"ASI280","k":6.05,"o":15.4},{"s":"ASI280","k":6.1,"f":14.9,"o":15.2},{"s":"ASI280","k":6.15,"o":14.7},{"s":"ASI280","k":6.2,"f":13.6,"o":14.1},{"s":"ASI280","k":6.25,"o":13.2},{"s":"ASI280","k":6.3,"f":11.6,"o":12.2},{"s":"ASI280","k":6.35,"o":11.0},{"s":"ASI280","k":6.4,"f":9.4,"o":9.9},{"s":"ASI280","k":6.45,"o":8.7},{"s":"ASI280","k":6.5,"f":7.1,"o":7.4},{"s":"ASI280","k":6.55,"o":6.3},{"s":"ASI280","k":6.6,"f":5.2,"o":5.2},{"s":"ASI280","k":6.65,"o":4.3},{"s":"ASI280","k":6.7,"f":3.8,"o":3.5},{"s":"ASI280","k":6.75,"o":3.0},{"s":"ASI280","k":6.8,"f":3.3,"o":2.7},{"s":"ASI280","k":6.85,"o":2.6},{"s":"ASI280","k":6.9,"f":3.5,"o":2.8},{"s":"ASI280","k":6.95,"o":3.4},{"s":"ASI280","k":7.0,"f":4.3,"o":4.1},{"s":"ASI280","k":7.05,"o":4.8},{"s":"ASI280","k":7.1,"f":5.5,"o":5.6},{"s":"ASI280","k":7.15,"o":6.4},{"s":"ASI280","k":7.2,"f":6.9,"o":7.2},{"s":"ASI280","k":7.25,"o":8.0},{"s":"ASI280","k":7.3,"f":8.3,"o":8.7},{"s":"ASI280","k":7.35,"o":9.3},{"s":"ASI280","k":7.4,"f":9.3,"o":9.8},{"s":"ASI280","k":7.45,"o":10.1},{"s":"ASI280","k":7.5,"f":10.0,"o":10.4},
{"s":"ASI280","k":7.6,"f":10.2,"o":11.0},{"s":"ASI280","k":7.7,"f":10.3,"o":9.6},{"s":"ASI280","k":7.8,"f":10.3,"o":11.4},{"s":"ASI280","k":7.9,"f":10.2,"o":10.0},{"s":"ASI280","k":8.0,"f":10.0,"o":11.2},{"s":"ASI280","k":8.1,"f":9.7,"o":9.1},{"s":"ASI280","k":8.2,"f":9.4,"o":10.5},{"s":"ASI280","k":8.3,"f":9.2,"o":8.6},{"s":"ASI280","k":8.4,"f":8.8,"o":9.7},{"s":"ASI280","k":8.5,"f":8.2,"o":7.6},{"s":"ASI280","k":8.6,"f":7.5,"o":8.3},{"s":"ASI280","k":8.7,"f":6.9,"o":6.2},{"s":"ASI280","k":8.8,"f":6.5,"o":7.0},{"s":"ASI280","k":8.9,"f":6.3,"o":5.8},{"s":"ASI280","k":9.0,"f":6.5,"o":7.2},{"s":"ASI280","k":9.1,"f":6.9,"o":6.4},{"s":"ASI280","k":9.2,"f":7.6,"o":8.5},{"s":"ASI280","k":9.3,"f":8.4,"o":8.0},{"s":"ASI280","k":9.4,"f":9.2,"o":10.1},{"s":"ASI280","k":9.5,"f":9.8,"o":10.6},{"s":"ASI280","k":9.6,"f":10.2,"o":10.9},{"s":"ASI280","k":9.7,"f":10.3,"o":11.5},{"s":"ASI280","k":9.8,"f":10.1,"o":9.6},{"s":"ASI280","k":9.9,"f":9.6,"o":10.4},{"s":"ASI280","k":10.0,"f":9.0,"o":7.9},{"s":"ASI280","k":10.1,"f":8.3,"o":10.7},{"s":"ASI280","k":10.2,"f":7.7,"o":6.8},{"s":"ASI280","k":10.25,"o":4.7},{"s":"ASI280","k":10.3,"f":7.4,"o":6.3},{"s":"ASI280","k":10.4,"f":7.3,"o":8.6},{"s":"ASI280","k":10.5,"f":7.4,"o":6.0},{"s":"ASI280","k":10.6,"f":7.6,"o":7.8},{"s":"ASI280","k":10.7,"f":7.8,"o":9.3},{"s":"ASI280","k":10.8,"f":8.0,"o":6.6},{"s":"ASI280","k":10.9,"f":8.2,"o":9.8},{"s":"ASI280","k":11.0,"f":8.3,"o":7.2},{"s":"ASI280","k":11.1,"f":8.4,"o":10.2},{"s":"ASI280","k":11.2,"f":8.5,"o":7.3},{"s":"ASI280","k":11.3,"f":8.5,"o":10.5},{"s":"ASI280","k":11.4,"f":8.6,"o":7.0},{"s":"ASI280","k":11.5,"f":8.6,"o":9.5},{"s":"ASI280","k":11.6,"f":8.6,"o":6.9},{"s":"ASI280","k":11.7,"f":8.6,"o":10.9},{"s":"ASI280","k":11.8,"f":8.5,"o":8.0},{"s":"ASI280","k":11.9,"f":8.5,"o":7.1},{"s":"ASI280","k":12.0,"f":8.5,"o":10.2}
],
"labels": [
{"k":11.98,"v":66.8,"t":"ASI200"},{"k":11.98,"v":54.8,"t":"ASI220"},{"k":11.98,"v":44.3,"t":"ASI240"},{"k":11.98,"v":33.7,"t":"ASI250"},{"k":11.98,"v":21.6,"t":"ASI260"},{"k":11.98,"v":12.3,"t":"ASI280"}
],
"panel": [{"k":3.12,"v":69.1,"t":"A"}]
},
"layer": [
{
"data": {"name": "exafs"},
"mark": {"type": "point", "shape": "circle", "filled": false, "size": 420, "stroke": "black", "strokeWidth": 1.15, "opacity": 1},
"encoding": {
"x": {"field": "k", "type": "quantitative", "title": "k[Å⁻¹]",
"scale": {"domain": [2.79, 12.19], "nice": false, "zero": false},
"axis": {"values": [3,4,5,6,7,8,9,10,11,12], "format": "d", "tickSize": 25, "tickWidth": 2, "tickColor": "black", "domain": false, "grid": false,
"labelFontSize": 32, "labelColor": "black", "labelFont": "Liberation Sans", "labelPadding": 16, "labelFlush": false, "labelOverlap": false,
"titleFontSize": 34, "titleFontWeight": "normal", "titleColor": "black", "titleFont": "Liberation Sans", "titleBaseline": "alphabetic", "titleY": 123, "minExtent": 0}},
"y": {"field": "o", "type": "quantitative", "title": "k χ  ³[k]",
"scale": {"domain": [0, 73.9], "nice": false, "zero": false},
"axis": {"labels": false, "ticks": false, "domain": false, "grid": false, "minExtent": 0,
"titleFontSize": 32, "titleFontWeight": "normal", "titleColor": "black", "titleFont": "Liberation Sans", "titleBaseline": "alphabetic", "titleX": -59}}
}
},
{
"data": {"name": "exafs"},
"mark": {"type": "point", "shape": "circle", "filled": true, "size": 3, "color": "black", "opacity": 1},
"encoding": {
"x": {"field": "k", "type": "quantitative", "title": "k[Å⁻¹]"},
"y": {"field": "o", "type": "quantitative", "title": "k χ  ³[k]"}
}
},
{
"data": {"name": "exafs"},
"transform": [{"filter": "isValid(datum.f)"}],
"mark": {"type": "line", "color": "black", "strokeWidth": 9, "interpolate": "monotone", "strokeCap": "round", "strokeJoin": "round"},
"encoding": {
"x": {"field": "k", "type": "quantitative", "title": "k[Å⁻¹]"},
"y": {"field": "f", "type": "quantitative", "title": "k χ  ³[k]"},
"detail": {"field": "s", "type": "nominal"}
}
},
{
"data": {"name": "labels"},
"mark": {"type": "text", "align": "right", "baseline": "alphabetic", "fontSize": 30, "font": "Liberation Sans", "color": "black"},
"encoding": {
"x": {"field": "k", "type": "quantitative", "title": "k[Å⁻¹]"},
"y": {"field": "v", "type": "quantitative", "title": "k χ  ³[k]"},
"text": {"field": "t"}
}
},
{
"data": {"name": "panel"},
"mark": {"type": "text", "align": "left", "baseline": "alphabetic", "fontSize": 30, "fontWeight": "bold", "font": "Liberation Sans", "color": "black"},
"encoding": {
"x": {"field": "k", "type": "quantitative", "title": "k[Å⁻¹]"},
"y": {"field": "v", "type": "quantitative", "title": "k χ  ³[k]"},
"text": {"field": "t"}
}
}
]
}
